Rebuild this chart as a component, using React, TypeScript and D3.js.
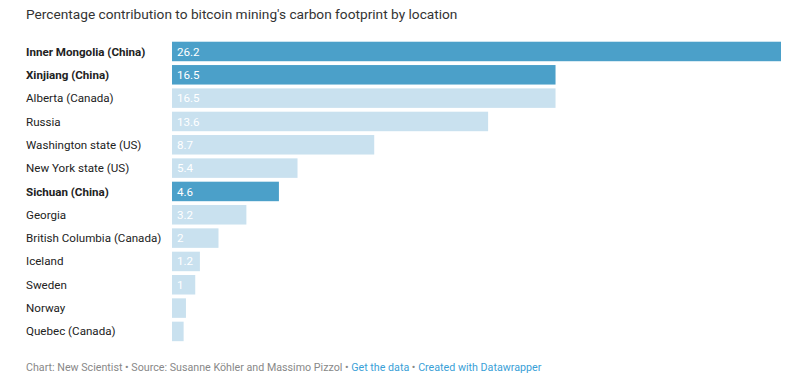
import React from "react";
import * as d3 from "d3";

const locations = [
  "Inner Mongolia (China)",
  "Xinjiang (China)",
  "Alberta (Canada)",
  "Russia",
  "Washington state (US)",
  "New York state (US)",
  "Sichuan (China)",
  "Georgia",
  "British Columbia (Canada)",
  "Iceland",
  "Sweden",
  "Norway",
  "Quebec (Canada)",
];
const values = [26.2, 16.5, 16.5, 13.6, 8.7, 5.4, 4.6, 3.2, 2, 1.2, 1, 0.6, 0.5];
const valueLabels = ["26.2", "16.5", "16.5", "13.6", "8.7", "5.4", "4.6", "3.2", "2", "1.2", "1", "", ""];
const highlighted = [true, true, false, false, false, false, true, false, false, false, false, false, false];

const W = 800;
const H = 381;
const FONT = "Roboto, 'Noto Sans', sans-serif";

export default function App() {
  const x = d3.scaleLinear().domain([0, 26.2]).range([172, 781]);
  const y = d3
    .scaleBand<number>()
    .domain(d3.range(locations.length))
    .range([39.8, 39.8 + 13 * 23.33])
    .paddingInner(0.164)
    .paddingOuter(0.082);

  return (
    <svg
      width={W}
      height={H}
      style={{ position: "absolute", left: 0, top: 0, background: "#fff" }}
      fontFamily={FONT}
    >
      <text x={26} y={19} fontSize={13.7} fill="#333">
        Percentage contribution to bitcoin mining's carbon footprint by location
      </text>
      {locations.map((loc, i) => {
        const yy = y(i)!;
        const bw = y.bandwidth();
        const cy = yy + bw / 2;
        return (
          <g key={loc}>
            <text
              x={26}
              y={cy}
              dy="0.35em"
              fontSize={11.6}
              fontWeight={highlighted[i] ? 700 : 400}
              fill="#222"
            >
              {loc}
            </text>
            <rect
              x={x(0)}
              y={yy}
              width={x(values[i]) - x(0)}
              height={bw}
              fill={highlighted[i] ? "#4ba0c9" : "#c9e1ef"}
            />
            {valueLabels[i] && (
              <text x={x(0) + 5} y={cy} dy="0.35em" fontSize={11.6} fill="#fff">
                {valueLabels[i]}
              </text>
            )}
          </g>
        );
      })}
      <text x={26} y={371} fontSize={10.7} fill="#888">
        <tspan>Chart: New Scientist • Source: Susanne Köhler and Massimo Pizzol • </tspan>
        <tspan fill="#3a9fd7">Get the data</tspan>
        <tspan> • </tspan>
        <tspan fill="#3a9fd7">Created with Datawrapper</tspan>
      </text>
    </svg>
  );
}
